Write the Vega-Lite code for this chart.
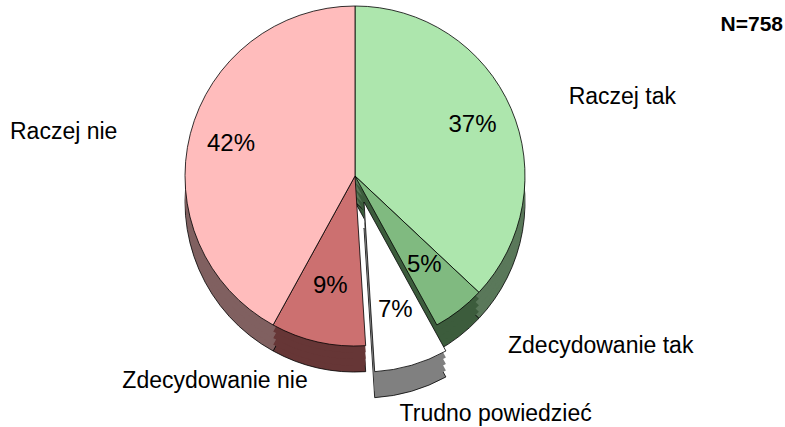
{
  "$schema": "https://vega.github.io/schema/vega-lite/v6.json",
  "width": 710,
  "height": 352,
  "autosize": {"type": "none"},
  "padding": {"left": 0, "top": 0, "right": 75, "bottom": 75},
  "background": "white",
  "title": {"text": "N=758", "orient": "top", "anchor": "end", "offset": -52, "dx": 73, "baseline": "alphabetic", "fontSize": 21, "fontWeight": "bold", "font": "Liberation Sans", "color": "black"},
  "config": {"view": {"stroke": null}, "font": "Liberation Sans"},
  "data": {"values": [
    {"category": "Raczej tak", "value": 37, "order": 1, "label": "37%"},
    {"category": "Zdecydowanie tak", "value": 5, "order": 2, "label": "5%"},
    {"category": "Trudno powiedzieć", "value": 7, "order": 3, "label": "7%"},
    {"category": "Zdecydowanie nie", "value": 9, "order": 4, "label": "9%"},
    {"category": "Raczej nie", "value": 42, "order": 5, "label": "42%"}
  ]},
  "transform": [{"stack": "value", "groupby": [], "sort": [{"field": "order", "order": "ascending"}], "as": ["t0", "t1"]}],
  "layer": [
    {"transform": [{"filter": "datum.category !== 'Trudno powiedzieć'"}],
     "mark": {"type": "arc", "radius": 170, "yOffset": 26, "stroke": "black", "strokeWidth": 0.8},
     "encoding": {"theta": {"field": "t0", "type": "quantitative", "scale": {"domain": [0, 100]}}, "theta2": {"field": "t1"},
       "color": {"field": "category", "type": "nominal", "legend": null, "scale": {"domain": ["Raczej tak", "Zdecydowanie tak", "Trudno powiedzieć", "Zdecydowanie nie", "Raczej nie"], "range": ["#5a785a", "#3c5c3c", "#808080", "#663636", "#806060"]}}}},
    {"transform": [{"filter": "datum.category !== 'Trudno powiedzieć'"}],
     "mark": {"type": "arc", "radius": 170, "yOffset": 19.5},
     "encoding": {"theta": {"field": "t0", "type": "quantitative", "scale": {"domain": [0, 100]}}, "theta2": {"field": "t1"},
       "color": {"field": "category", "type": "nominal", "legend": null, "scale": {"domain": ["Raczej tak", "Zdecydowanie tak", "Trudno powiedzieć", "Zdecydowanie nie", "Raczej nie"], "range": ["#5a785a", "#3c5c3c", "#808080", "#663636", "#806060"]}}}},
    {"transform": [{"filter": "datum.category !== 'Trudno powiedzieć'"}],
     "mark": {"type": "arc", "radius": 170, "yOffset": 13},
     "encoding": {"theta": {"field": "t0", "type": "quantitative", "scale": {"domain": [0, 100]}}, "theta2": {"field": "t1"},
       "color": {"field": "category", "type": "nominal", "legend": null, "scale": {"domain": ["Raczej tak", "Zdecydowanie tak", "Trudno powiedzieć", "Zdecydowanie nie", "Raczej nie"], "range": ["#5a785a", "#3c5c3c", "#808080", "#663636", "#806060"]}}}},
    {"transform": [{"filter": "datum.category !== 'Trudno powiedzieć'"}],
     "mark": {"type": "arc", "radius": 170, "yOffset": 6.5},
     "encoding": {"theta": {"field": "t0", "type": "quantitative", "scale": {"domain": [0, 100]}}, "theta2": {"field": "t1"},
       "color": {"field": "category", "type": "nominal", "legend": null, "scale": {"domain": ["Raczej tak", "Zdecydowanie tak", "Trudno powiedzieć", "Zdecydowanie nie", "Raczej nie"], "range": ["#5a785a", "#3c5c3c", "#808080", "#663636", "#806060"]}}}},
    {"transform": [{"filter": "datum.category !== 'Trudno powiedzieć'"}],
     "mark": {"type": "arc", "radius": 170, "stroke": "black", "strokeWidth": 0.8},
     "encoding": {"theta": {"field": "t0", "type": "quantitative", "scale": {"domain": [0, 100]}}, "theta2": {"field": "t1"},
       "color": {"field": "category", "type": "nominal", "legend": null, "scale": {"domain": ["Raczej tak", "Zdecydowanie tak", "Trudno powiedzieć", "Zdecydowanie nie", "Raczej nie"], "range": ["#ade6ad", "#80ba80", "#ffffff", "#cc7070", "#ffbcbc"]}}}},
    {"transform": [{"filter": "datum.category === 'Trudno powiedzieć'"}],
     "mark": {"type": "arc", "radius": 170, "xOffset": 9, "yOffset": 52, "stroke": "black", "strokeWidth": 0.8, "fill": "#808080"},
     "encoding": {"theta": {"field": "t0", "type": "quantitative", "scale": {"domain": [0, 100]}}, "theta2": {"field": "t1"}}},
    {"transform": [{"filter": "datum.category === 'Trudno powiedzieć'"}],
     "mark": {"type": "arc", "radius": 170, "xOffset": 9, "yOffset": 45.5, "fill": "#808080"},
     "encoding": {"theta": {"field": "t0", "type": "quantitative", "scale": {"domain": [0, 100]}}, "theta2": {"field": "t1"}}},
    {"transform": [{"filter": "datum.category === 'Trudno powiedzieć'"}],
     "mark": {"type": "arc", "radius": 170, "xOffset": 9, "yOffset": 39, "fill": "#808080"},
     "encoding": {"theta": {"field": "t0", "type": "quantitative", "scale": {"domain": [0, 100]}}, "theta2": {"field": "t1"}}},
    {"transform": [{"filter": "datum.category === 'Trudno powiedzieć'"}],
     "mark": {"type": "arc", "radius": 170, "xOffset": 9, "yOffset": 32.5, "fill": "#808080"},
     "encoding": {"theta": {"field": "t0", "type": "quantitative", "scale": {"domain": [0, 100]}}, "theta2": {"field": "t1"}}},
    {"transform": [{"filter": "datum.category === 'Trudno powiedzieć'"}],
     "mark": {"type": "arc", "radius": 170, "xOffset": 9, "yOffset": 26, "stroke": "black", "strokeWidth": 0.8, "fill": "#ffffff"},
     "encoding": {"theta": {"field": "t0", "type": "quantitative", "scale": {"domain": [0, 100]}}, "theta2": {"field": "t1"}}},
    {"mark": {"type": "text", "radius": 128, "fontSize": 24, "color": "black"},
     "encoding": {"theta": {"field": "value", "type": "quantitative", "stack": true, "scale": {"domain": [0, 100]}}, "order": {"field": "order", "type": "quantitative"},
       "text": {"condition": {"test": "datum.order !== 1 && datum.order !== 5", "value": ""}, "field": "label"}}},
    {"mark": {"type": "text", "radius": 113, "fontSize": 24, "color": "black"},
     "encoding": {"theta": {"field": "value", "type": "quantitative", "stack": true, "scale": {"domain": [0, 100]}}, "order": {"field": "order", "type": "quantitative"},
       "text": {"condition": {"test": "datum.order !== 2 && datum.order !== 4", "value": ""}, "field": "label"}}},
    {"mark": {"type": "text", "radius": 112, "fontSize": 24, "color": "black", "dx": 9, "dy": 26},
     "encoding": {"theta": {"field": "value", "type": "quantitative", "stack": true, "scale": {"domain": [0, 100]}}, "order": {"field": "order", "type": "quantitative"},
       "text": {"condition": {"test": "datum.order !== 3", "value": ""}, "field": "label"}}},
    {"mark": {"type": "text", "radius": 235, "fontSize": 23, "color": "black", "align": "left", "dx": -2, "dy": 14},
     "encoding": {"theta": {"field": "value", "type": "quantitative", "stack": true, "scale": {"domain": [0, 100]}}, "order": {"field": "order", "type": "quantitative"},
       "text": {"condition": {"test": "datum.order !== 1", "value": ""}, "field": "category"}}},
    {"mark": {"type": "text", "radius": 235, "fontSize": 23, "color": "black", "align": "left", "dx": 9, "dy": -16},
     "encoding": {"theta": {"field": "value", "type": "quantitative", "stack": true, "scale": {"domain": [0, 100]}}, "order": {"field": "order", "type": "quantitative"},
       "text": {"condition": {"test": "datum.order !== 2", "value": ""}, "field": "category"}}},
    {"mark": {"type": "text", "radius": 235, "fontSize": 23, "color": "black", "align": "left", "dx": -21, "dy": 12},
     "encoding": {"theta": {"field": "value", "type": "quantitative", "stack": true, "scale": {"domain": [0, 100]}}, "order": {"field": "order", "type": "quantitative"},
       "text": {"condition": {"test": "datum.order !== 3", "value": ""}, "field": "category"}}},
    {"mark": {"type": "text", "radius": 235, "fontSize": 23, "color": "black", "align": "right", "dx": 4, "dy": -24},
     "encoding": {"theta": {"field": "value", "type": "quantitative", "stack": true, "scale": {"domain": [0, 100]}}, "order": {"field": "order", "type": "quantitative"},
       "text": {"condition": {"test": "datum.order !== 4", "value": ""}, "field": "category"}}},
    {"mark": {"type": "text", "radius": 235, "fontSize": 23, "color": "black", "align": "right", "dx": -10, "dy": 14},
     "encoding": {"theta": {"field": "value", "type": "quantitative", "stack": true, "scale": {"domain": [0, 100]}}, "order": {"field": "order", "type": "quantitative"},
       "text": {"condition": {"test": "datum.order !== 5", "value": ""}, "field": "category"}}}
  ],
  "resolve": {"scale": {"color": "independent"}}
}
